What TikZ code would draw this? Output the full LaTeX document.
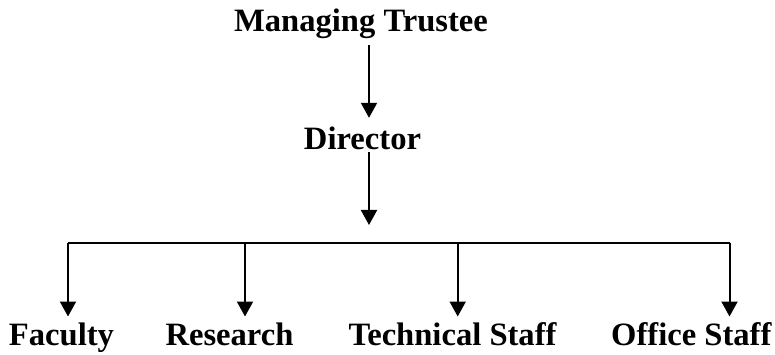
\documentclass[tikz,border=0pt]{standalone}
\usepackage{fontspec}
\setmainfont{Liberation Serif}
\usetikzlibrary{arrows.meta}
\begin{document}
\begin{tikzpicture}[x=1pt,y=-1pt,
  lbl/.style={anchor=base,inner sep=0pt,text height=22pt,text depth=7pt,
    font=\fontsize{32.6}{39}\selectfont\bfseries},
  conn/.style={line width=2pt},
  arr/.style={conn,-{Triangle[length=15pt,width=16pt]}}]
\useasboundingbox (0,0) rectangle (775,355);
% nodes
\node[lbl] (mt)  at (361,32) {Managing Trustee};
\node[lbl] (dir) at (362.5,150) {Director};
\node[lbl] (fac) at (61.5,345.7) {Faculty};
\node[lbl] (res) at (229.5,345.7) {Research};
\node[lbl] (tec) at (452.5,345.7) {Technical Staff};
\node[lbl] (off) at (691.3,345.7) {Office Staff};
% junction coordinates
\coordinate (jx) at (369,0);
\coordinate (hub) at (369,242.7);
\coordinate (b1) at (68,242.7);
\coordinate (b2) at (245,242.7);
\coordinate (b3) at (457.7,242.7);
\coordinate (b4) at (729.5,242.7);
% connectors
\draw[arr,shorten <=6pt,shorten >=10pt] (mt.south -| jx) -- (dir.north -| jx);
\draw[arr,shorten <=-5pt,shorten >=17.7pt] (dir.south -| jx) -- (hub);
\draw[conn] (b1) -- (b4);
\draw[arr,shorten >=7pt] (b1) -- (fac.north -| b1);
\draw[arr,shorten >=7pt] (b2) -- (res.north -| b2);
\draw[arr,shorten >=7pt] (b3) -- (tec.north -| b3);
\draw[arr,shorten >=7pt] (b4) -- (off.north -| b4);
\end{tikzpicture}
\end{document}
